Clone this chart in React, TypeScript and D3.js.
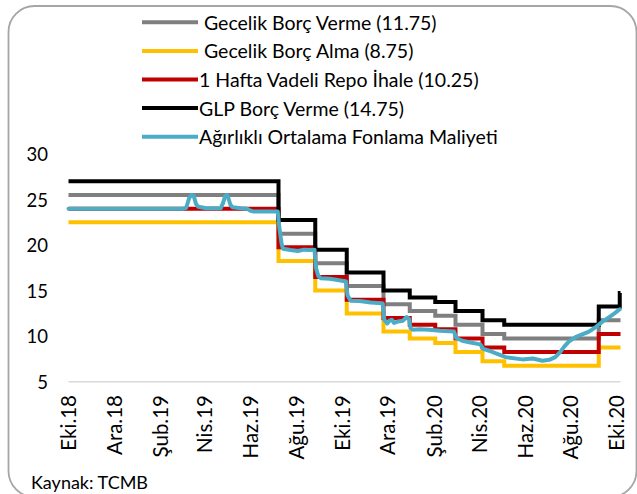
import React from 'react';
import * as d3 from 'd3';

const W = 637;
const H = 494;

// Policy corridor step series (change dates and levels)
const stepDates = ["2018-10-18","2019-07-25","2019-09-12","2019-10-24","2019-12-12","2020-01-16","2020-02-19","2020-03-17","2020-04-22","2020-05-21","2020-09-24","2020-10-22"];
const endDate = "2020-10-23";
const onLending = [25.5, 21.25, 18, 15.5, 13.5, 12.75, 12.25, 11.25, 10.25, 9.75, 11.75, 11.75];
const onBorrowing = [22.5, 18.25, 15, 12.5, 10.5, 9.75, 9.25, 8.25, 7.25, 6.75, 8.75, 8.75];
const repo = [24, 19.75, 16.5, 14, 12, 11.25, 10.75, 9.75, 8.75, 8.25, 10.25, 10.25];
const glp = [27, 22.75, 19.5, 17, 15, 14.25, 13.75, 12.75, 11.75, 11.25, 13.25, 14.75];

// Weighted average funding cost
const blueDates = [
  "2018-10-18","2019-03-20","2019-03-24","2019-03-28","2019-03-31","2019-04-03","2019-04-06","2019-04-09","2019-04-20",
  "2019-05-09","2019-05-12","2019-05-15","2019-05-17","2019-05-19","2019-05-22","2019-05-25","2019-06-05","2019-06-13",
  "2019-06-17","2019-06-21","2019-07-24","2019-07-26","2019-07-29","2019-07-31","2019-08-10","2019-08-20","2019-08-28",
  "2019-09-05","2019-09-11","2019-09-13","2019-09-16","2019-09-20","2019-10-01","2019-10-10","2019-10-23","2019-10-25",
  "2019-10-29","2019-11-10","2019-11-25","2019-12-11","2019-12-13","2019-12-17","2019-12-20","2019-12-23","2019-12-26",
  "2019-12-31","2020-01-07","2020-01-12","2020-01-15","2020-01-17","2020-01-20","2020-01-29","2020-02-11","2020-02-25",
  "2020-03-15","2020-03-18","2020-03-26","2020-04-06","2020-04-19","2020-04-23","2020-05-01","2020-05-10","2020-05-23",
  "2020-06-14","2020-06-28","2020-07-11","2020-07-20","2020-07-28","2020-08-04","2020-08-09","2020-08-15","2020-08-24",
  "2020-09-02","2020-09-11","2020-09-20","2020-09-29","2020-10-08","2020-10-15","2020-10-22"
];
const blueValues = [
  24.0, 24.0, 24.1, 25.2, 25.5, 25.4, 24.5, 24.2, 24.05,
  24.05, 24.6, 25.4, 25.5, 25.2, 24.4, 24.15, 24.05, 24.0,
  23.8, 23.7, 23.7, 22.0, 20.2, 19.6, 19.45, 19.35, 19.5,
  19.45, 19.5, 17.5, 16.6, 16.35, 16.3, 16.2, 16.0, 14.5,
  13.9, 13.85, 13.7, 13.6, 11.8, 11.4, 11.7, 11.8, 11.45,
  11.6, 11.7, 12.1, 11.9, 10.9, 10.7, 10.75, 10.7, 10.6,
  10.5, 9.8, 9.5, 9.3, 9.1, 8.6, 8.4, 8.1, 7.7,
  7.45, 7.55, 7.3, 7.4, 7.7, 8.3, 8.85, 9.4, 9.9,
  10.2, 10.5, 11.0, 11.6, 12.1, 12.5, 12.95
];

const tickDates = ["2018-10-18","2018-12-18","2019-02-18","2019-04-18","2019-06-18","2019-08-18","2019-10-18","2019-12-18","2020-02-18","2020-04-18","2020-06-18","2020-08-18","2020-10-18"];
const tickLabels = ["Eki.18","Ara.18","Şub.19","Nis.19","Haz.19","Ağu.19","Eki.19","Ara.19","Şub.20","Nis.20","Haz.20","Ağu.20","Eki.20"];
const yTicks = [5, 10, 15, 20, 25, 30];

const legendLabels = [" Gecelik Borç Verme (11.75)", " Gecelik Borç Alma (8.75)", "1 Hafta Vadeli Repo İhale (10.25)", "GLP Borç Verme (14.75)", "Ağırlıklı Ortalama Fonlama Maliyeti"];
const colors = ["#7f7f7f", "#ffc000", "#c00000", "#000000", "#4bacc6"];

const parse = d3.timeParse("%Y-%m-%d");
const FONT = "Lato, 'Open Sans', sans-serif";

export default function App() {
  const x = d3.scaleTime().domain([parse("2018-10-18")!, parse(endDate)!]).range([68.5, 620.5]);
  const y = d3.scaleLinear().domain([5, 30]).range([381.7, 154]);

  const mkStep = (vals: number[]) => {
    const pts: [Date, number][] = stepDates.map((d, i) => [parse(d)!, vals[i]]);
    pts.push([parse(endDate)!, vals[vals.length - 1]]);
    return d3.line<[Date, number]>().x(d => x(d[0])).y(d => y(d[1])).curve(d3.curveStepAfter)(pts) || "";
  };
  const bluePts: [Date, number][] = blueDates.map((d, i) => [parse(d)!, blueValues[i]]);
  const bluePath = d3.line<[Date, number]>().x(d => x(d[0])).y(d => y(d[1]))(bluePts) || "";

  const stepSeries = [onLending, onBorrowing, repo, glp];

  return (
    <svg width={W} height={H} style={{ position: 'absolute', left: 0, top: 0, background: '#fff' }} fontFamily={FONT}>
      <rect x={8.5} y={6} width={628} height={491} rx={26} ry={26} fill="#fff" stroke="#a6a6a6" strokeWidth={1.8} />
      {/* legend */}
      {legendLabels.map((lab, i) => (
        <g key={lab} transform={`translate(0,${22.3 + i * 28.6})`}>
          <line x1={142} x2={198} y1={0} y2={0} stroke={colors[i]} strokeWidth={4} />
          <text x={199} y={0} dominantBaseline="central" fontSize={19.5} fill="#000" style={{ whiteSpace: 'pre' }}>{lab}</text>
        </g>
      ))}
      {/* y tick labels */}
      {yTicks.map(t => (
        <text key={t} x={48} y={y(t)} textAnchor="end" dominantBaseline="central" fontSize={18.5} fill="#000">{t}</text>
      ))}
      {/* baseline */}
      <line x1={x.range()[0]} x2={x.range()[1]} y1={y(5)} y2={y(5)} stroke="#d9d9d9" strokeWidth={1.5} />
      {/* x tick labels */}
      {tickDates.map((d, i) => (
        <text key={d} transform={`translate(${x(parse(d)!)},395) rotate(-90)`} textAnchor="end" dy="0.36em" fontSize={20.5} fill="#000">{tickLabels[i]}</text>
      ))}
      {/* series */}
      {stepSeries.map((vals, i) => (
        <path key={i} d={mkStep(vals)} fill="none" stroke={colors[i]} strokeWidth={4} strokeLinejoin="miter" />
      ))}
      <path d={bluePath} fill="none" stroke={colors[4]} strokeWidth={4} strokeLinejoin="round" strokeLinecap="round" />
      <text x={31} y={489} fontSize={18} fill="#000">Kaynak: TCMB</text>
    </svg>
  );
}
